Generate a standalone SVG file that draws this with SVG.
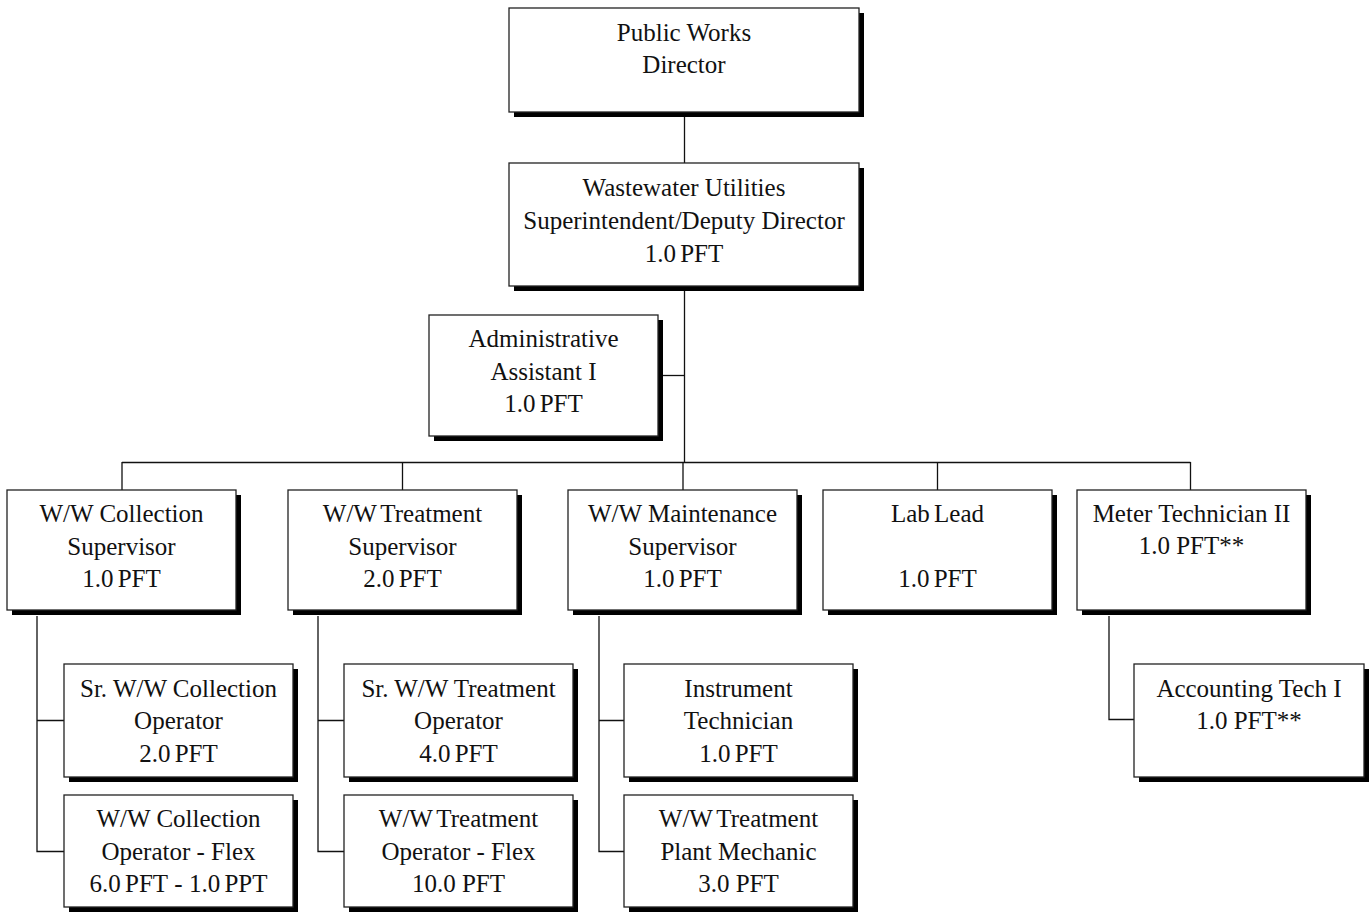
<svg xmlns="http://www.w3.org/2000/svg" width="1369" height="914" viewBox="0 0 1369 914">
  <style>
    .shadow { fill: #000; }
    .box { fill: #fff; stroke: #222; stroke-width: 1.3; }
    .lbl { font-family: "Liberation Serif", "Times New Roman", serif; font-size: 25px; fill: #111; text-anchor: middle; }
    .tight { word-spacing: -2px; }
    .link { fill: none; stroke: #111; stroke-width: 1.3; }
  </style>

  <!-- reporting lines -->
  <g id="connectors">
    <path class="link" d="M684.5 112 V163"/>
    <path class="link" d="M684.5 286 V462"/>
    <path class="link" d="M663 375.5 H684.5"/>
    <path class="link" d="M122 462.5 H1190.5"/>
    <path class="link" d="M122 462 V490 M402.5 462 V490 M683 462 V490 M937.5 462 V490 M1190.5 462 V490"/>
    <path class="link" d="M37 616 V851.5 H64 M37 720.5 H64"/>
    <path class="link" d="M318 616 V851.5 H344 M318 720.5 H344"/>
    <path class="link" d="M599 616 V851.5 H624 M599 720.5 H624"/>
    <path class="link" d="M1109 616 V719.5 H1134"/>
  </g>

  <g id="public-works-director">
    <rect class="shadow" x="514" y="13" width="350" height="104"/>
    <rect class="box" x="509" y="8" width="350" height="104"/>
    <text class="lbl" x="684" y="41">Public Works</text>
    <text class="lbl" x="684" y="73">Director</text>
  </g>

  <g id="ww-superintendent">
    <rect class="shadow" x="514" y="168" width="350" height="123"/>
    <rect class="box" x="509" y="163" width="350" height="123"/>
    <text class="lbl" x="684" y="196">Wastewater Utilities</text>
    <text class="lbl" x="684" y="229">Superintendent/Deputy Director</text>
    <text class="lbl tight" x="684" y="262">1.0 PFT</text>
  </g>

  <g id="admin-assistant">
    <rect class="shadow" x="434" y="320" width="229" height="121"/>
    <rect class="box" x="429" y="315" width="229" height="121"/>
    <text class="lbl" x="543.5" y="347">Administrative</text>
    <text class="lbl" x="543.5" y="380">Assistant I</text>
    <text class="lbl tight" x="543.5" y="412">1.0 PFT</text>
  </g>

  <g id="collection-supervisor">
    <rect class="shadow" x="12" y="495" width="229" height="120"/>
    <rect class="box" x="7" y="490" width="229" height="120"/>
    <text class="lbl" x="121.5" y="522">W/W Collection</text>
    <text class="lbl" x="121.5" y="555">Supervisor</text>
    <text class="lbl tight" x="121.5" y="587">1.0 PFT</text>
  </g>

  <g id="treatment-supervisor">
    <rect class="shadow" x="293" y="495" width="229" height="120"/>
    <rect class="box" x="288" y="490" width="229" height="120"/>
    <text class="lbl tight" x="402.5" y="522">W/W Treatment</text>
    <text class="lbl" x="402.5" y="555">Supervisor</text>
    <text class="lbl tight" x="402.5" y="587">2.0 PFT</text>
  </g>

  <g id="maintenance-supervisor">
    <rect class="shadow" x="573" y="495" width="229" height="120"/>
    <rect class="box" x="568" y="490" width="229" height="120"/>
    <text class="lbl" x="682.5" y="522">W/W Maintenance</text>
    <text class="lbl" x="682.5" y="555">Supervisor</text>
    <text class="lbl tight" x="682.5" y="587">1.0 PFT</text>
  </g>

  <g id="lab-lead">
    <rect class="shadow" x="828" y="495" width="229" height="120"/>
    <rect class="box" x="823" y="490" width="229" height="120"/>
    <text class="lbl tight" x="937.5" y="522">Lab Lead</text>
    <text class="lbl tight" x="937.5" y="587">1.0 PFT</text>
  </g>

  <g id="meter-technician">
    <rect class="shadow" x="1082" y="495" width="229" height="120"/>
    <rect class="box" x="1077" y="490" width="229" height="120"/>
    <text class="lbl" x="1191.5" y="522">Meter Technician II</text>
    <text class="lbl" x="1191.5" y="554">1.0 PFT**</text>
  </g>

  <g id="sr-collection-operator">
    <rect class="shadow" x="69" y="669" width="229" height="113"/>
    <rect class="box" x="64" y="664" width="229" height="113"/>
    <text class="lbl" x="178.5" y="697">Sr. W/W Collection</text>
    <text class="lbl" x="178.5" y="729">Operator</text>
    <text class="lbl tight" x="178.5" y="762">2.0 PFT</text>
  </g>

  <g id="collection-operator-flex">
    <rect class="shadow" x="69" y="800" width="229" height="112"/>
    <rect class="box" x="64" y="795" width="229" height="112"/>
    <text class="lbl" x="178.5" y="827">W/W Collection</text>
    <text class="lbl" x="178.5" y="860">Operator - Flex</text>
    <text class="lbl" x="178.5" y="892"><tspan class="tight">6.0 PFT</tspan> - <tspan class="tight">1.0 PPT</tspan></text>
  </g>

  <g id="sr-treatment-operator">
    <rect class="shadow" x="349" y="669" width="229" height="113"/>
    <rect class="box" x="344" y="664" width="229" height="113"/>
    <text class="lbl" x="458.5" y="697">Sr. W/W Treatment</text>
    <text class="lbl" x="458.5" y="729">Operator</text>
    <text class="lbl tight" x="458.5" y="762">4.0 PFT</text>
  </g>

  <g id="treatment-operator-flex">
    <rect class="shadow" x="349" y="800" width="229" height="112"/>
    <rect class="box" x="344" y="795" width="229" height="112"/>
    <text class="lbl tight" x="458.5" y="827">W/W Treatment</text>
    <text class="lbl" x="458.5" y="860">Operator - Flex</text>
    <text class="lbl" x="458.5" y="892">10.0 PFT</text>
  </g>

  <g id="instrument-technician">
    <rect class="shadow" x="629" y="669" width="229" height="113"/>
    <rect class="box" x="624" y="664" width="229" height="113"/>
    <text class="lbl" x="738.5" y="697">Instrument</text>
    <text class="lbl" x="738.5" y="729">Technician</text>
    <text class="lbl tight" x="738.5" y="762">1.0 PFT</text>
  </g>

  <g id="plant-mechanic">
    <rect class="shadow" x="629" y="800" width="229" height="112"/>
    <rect class="box" x="624" y="795" width="229" height="112"/>
    <text class="lbl tight" x="738.5" y="827">W/W Treatment</text>
    <text class="lbl" x="738.5" y="860">Plant Mechanic</text>
    <text class="lbl" x="738.5" y="892">3.0 PFT</text>
  </g>

  <g id="accounting-tech">
    <rect class="shadow" x="1139" y="669" width="230" height="113"/>
    <rect class="box" x="1134" y="664" width="230" height="113"/>
    <text class="lbl" x="1249" y="697">Accounting Tech I</text>
    <text class="lbl" x="1249" y="729">1.0 PFT**</text>
  </g>
</svg>
